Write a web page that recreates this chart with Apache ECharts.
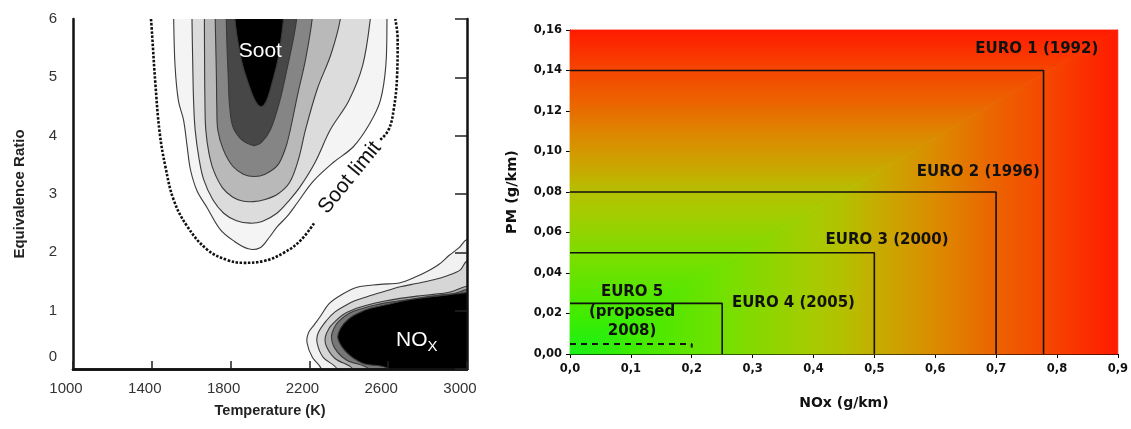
<!DOCTYPE html>
<html><head><meta charset="utf-8">
<script src="https://cdn.jsdelivr.net/npm/echarts/dist/echarts.min.js"></script>
<style>html,body{margin:0;padding:0;background:#fff}#c{width:1131px;height:429px}</style>
</head><body><div id="c"></div>
<script>
// ---------- LEFT PANEL DATA (Temperature K, Equivalence ratio) ----------
const tempRange = [1000, 3000];
const tempStep = 400;
const phiRange = [0, 6];
const phiStep = 1;

// soot contour regions (outer -> inner), closed above the top frame
const sootR1 = [[1511,6.3],[1511,6],[1518,5.2],[1535,4.6],[1561,4.27],[1580,3.8],[1596,3.42],[1630,3.05],[1680,2.77],[1748,2.39],[1814,2.2],[1890,2.06],[1950,2.08],[1995,2.25],[2037,2.44],[2088,2.62],[2139,2.85],[2220,3.22],[2321,3.54],[2423,3.81],[2505,4.2],[2560,4.6],[2588,5.2],[2594,6],[2594,6.3]];
const sootR2 = [[1604,6.3],[1604,6],[1608,5.2],[1612,4.6],[1620,4.1],[1640,3.6],[1663,3.25],[1710,2.9],[1765,2.67],[1830,2.54],[1900,2.5],[1960,2.53],[2035,2.67],[2100,2.9],[2154,3.13],[2230,3.55],[2306,4.1],[2400,4.6],[2470,5.2],[2509,6],[2509,6.3]];
const sootR3 = [[1667,6.3],[1667,6],[1668,5.2],[1670,4.5],[1674,4.1],[1690,3.7],[1714,3.4],[1760,3.1],[1810,2.95],[1860,2.88],[1915,2.87],[1970,2.9],[2040,3.0],[2100,3.2],[2145,3.6],[2180,4.1],[2240,4.8],[2310,5.4],[2357,6],[2357,6.3]];
const sootR4 = [[1722,6.3],[1722,6],[1725,5.5],[1728,5.0],[1730,4.5],[1735,4.1],[1763,3.76],[1810,3.48],[1865,3.34],[1920,3.3],[1975,3.34],[2040,3.5],[2080,3.8],[2103,4.1],[2140,4.7],[2180,5.3],[2214,6],[2214,6.3]];
const sootR5 = [[1778,6.3],[1778,6],[1782,5.5],[1788,5.0],[1795,4.5],[1812,4.15],[1850,3.95],[1890,3.86],[1920,3.83],[1955,3.88],[2002,4.1],[2050,4.6],[2090,5.2],[2115,5.6],[2135,6],[2135,6.3]];
const sootR6 = [[1822,6.3],[1822,6],[1838,5.6],[1862,5.2],[1895,4.85],[1925,4.6],[1955,4.5],[1982,4.6],[2010,4.9],[2040,5.3],[2058,5.7],[2068,6],[2068,6.3]];

// NOx contour regions (outer -> inner), closed outside right/bottom frame
const noxN1 = [[2260,-0.3],[2260,0],[2215,0.2],[2188,0.45],[2195,0.62],[2225,0.76],[2255,0.9],[2300,1.12],[2357,1.26],[2442,1.4],[2560,1.45],[2661,1.48],[2740,1.58],[2797,1.67],[2860,1.8],[2910,1.95],[2960,2.08],[3000,2.22],[3080,2.22],[3080,-0.3]];
const noxN2 = [[2340,-0.3],[2340,0],[2270,0.2],[2239,0.45],[2245,0.62],[2289,0.84],[2330,0.98],[2374,1.07],[2430,1.17],[2492,1.24],[2580,1.33],[2661,1.41],[2750,1.47],[2831,1.53],[2900,1.6],[2966,1.7],[3000,1.85],[3080,1.85],[3080,-0.3]];
const noxN3 = [[2420,-0.3],[2420,0],[2330,0.18],[2285,0.4],[2281,0.55],[2300,0.7],[2323,0.79],[2370,0.93],[2424,1.02],[2500,1.1],[2577,1.16],[2660,1.21],[2746,1.25],[2830,1.28],[2915,1.32],[3000,1.42],[3080,1.42],[3080,-0.3]];
const noxN4 = [[2500,-0.3],[2500,0],[2390,0.15],[2330,0.35],[2312,0.55],[2325,0.7],[2350,0.82],[2400,0.95],[2460,1.03],[2540,1.1],[2620,1.15],[2720,1.2],[2840,1.26],[2940,1.3],[3000,1.36],[3080,1.36],[3080,-0.3]];
const noxN5 = [[2600,-0.3],[2600,0],[2470,0.1],[2390,0.28],[2345,0.52],[2358,0.7],[2400,0.86],[2450,0.96],[2510,1.04],[2590,1.1],[2680,1.17],[2800,1.23],[2900,1.27],[3000,1.31],[3080,1.31],[3080,-0.3]];

// dashed "soot limit" curve (gap where the label sits)
const sootLimitLower = [[1396,6],[1401,5.76],[1418,4.9],[1440,4.05],[1469,3.47],[1511,2.9],[1579,2.45],[1680,2.05],[1782,1.87],[1866,1.82],[1968,1.85],[2069,1.99],[2154,2.2],[2228,2.52]];
const sootLimitUpper = [[2560,3.93],[2602,4.1],[2628,4.45],[2645,5.02],[2648,5.65],[2636,6]];

const leftNoteText = ['Soot', '{n|NO}{s|X}', 'Soot limit'];
const leftNoteAt = [[1951,5.44],[2745,0.5],[2405,3.28]];

// ---------- RIGHT PANEL DATA (NOx g/km, PM g/km) ----------
const noxAxis = [0, 0.9];
const noxStep = 0.1;
const pmAxis = [0, 0.16];
const pmStep = 0.02;
const euroNames = ['EURO 1 (1992)','EURO 2 (1996)','EURO 3 (2000)','EURO 4 (2005)'];
const euroNOx = [0.778, 0.7, 0.5, 0.25];
const euroPM  = [0.14, 0.08, 0.05, 0.025];
const euro5Proposed = [[0,0.005],[0.2,0.005],[0.2,0.0032]];
const euroLabelText = ['EURO 1 (1992)','EURO 2 (1996)','EURO 3 (2000)','EURO 4 (2005)','EURO 5\n(proposed\n2008)'];
const euroLabelAt = [[0.868,0.1506],[0.772,0.0899],[0.622,0.0563],[0.266,0.0252],[0.102,0.0207]];

// ---------- STYLES ----------
const sootShapes = [sootR1,sootR2,sootR3,sootR4,sootR5,sootR6];
const sootFills = ['#f4f4f4','#dcdcdc','#b9b9b9','#858585','#474747','#000000'];
const noxShapes = [noxN1,noxN2,noxN3,noxN4,noxN5];
const noxFills = ['#f1f1f1','#d6d6d6','#adadad','#777777','#000000'];
const allShapes = sootShapes.concat(noxShapes);
const allFills = sootFills.concat(noxFills);
const leftNoteStyle = [
  {fill:'#fff', fontSize:21, rot:0},
  {fill:'#fff', fontSize:21, rot:0},
  {fill:'#111', fontSize:21, rot:50.7}
];
const euroAlign = ['right','right','right','left','center'];
// "from corner" rectangular gradient stops (green -> yellow -> orange -> red)
const gradStops = [
  {offset:0, color:'#18f018'},
  {offset:0.12, color:'#40ec00'},
  {offset:0.28, color:'#74e000'},
  {offset:0.44, color:'#a6cc00'},
  {offset:0.5, color:'#b4c000'},
  {offset:0.56, color:'#c6ac00'},
  {offset:0.67, color:'#dc8a00'},
  {offset:0.78, color:'#ec6200'},
  {offset:0.88, color:'#f64400'},
  {offset:1, color:'#ff1a00'}
];
const LF = 'Liberation Sans, Arial, sans-serif';
const RF = 'DejaVu Sans, Verdana, sans-serif';

const chart = echarts.init(document.getElementById('c'), null, {renderer:'canvas'});
const boxLine = {show:true, lineStyle:{color:'#111', width:2.5}};

const option = {
  animation:false,
  backgroundColor:'#ffffff',
  grid:[
    {left:73, top:19, width:394, height:350},
    {left:570, top:30, width:548, height:324}
  ],
  xAxis:[
    {gridIndex:0, type:'value', min:tempRange[0], max:tempRange[1], interval:tempStep, z:10,
     axisLine:boxLine, splitLine:{show:false},
     axisTick:{show:true, inside:true, length:8, lineStyle:{color:'#222', width:1.5}},
     axisLabel:{color:'#333', fontSize:15, fontFamily:LF, margin:12, padding:[0,14,0,0], formatter:v=>String(v)},
     name:'Temperature (K)', nameLocation:'middle', nameGap:34,
     nameTextStyle:{fontFamily:LF, fontWeight:'bold', fontSize:14.5, color:'#222'}},
    {gridIndex:0, type:'value', position:'top', min:tempRange[0], max:tempRange[1], interval:tempStep, z:10,
     axisLine:boxLine, axisTick:{show:false}, axisLabel:{show:false}, splitLine:{show:false}},
    {gridIndex:1, type:'value', min:noxAxis[0], max:noxAxis[1], interval:noxStep,
     axisLine:{show:true, lineStyle:{color:'#000', width:1}}, splitLine:{show:false},
     axisTick:{show:true, length:4, lineStyle:{color:'#000'}},
     axisLabel:{color:'#111', fontSize:11.5, fontWeight:'bold', fontFamily:RF, margin:9,
       formatter:v=>v.toFixed(1).replace('.',',')},
     name:'NOx (g/km)', nameLocation:'middle', nameGap:42,
     nameTextStyle:{fontFamily:RF, fontWeight:'bold', fontSize:14, color:'#111'}}
  ],
  yAxis:[
    {gridIndex:0, type:'value', min:phiRange[0], max:phiRange[1], interval:phiStep, z:10,
     axisLine:boxLine, axisTick:{show:false}, splitLine:{show:false},
     axisLabel:{color:'#333', fontSize:15, fontFamily:LF, margin:16,
       formatter:v=> v===0 ? '{z|0}' : String(v),
       rich:{z:{fontSize:15, fontFamily:LF, color:'#333', padding:[0,0,25,0]}}},
     name:'Equivalence Ratio', nameLocation:'middle', nameGap:46,
     nameTextStyle:{fontFamily:LF, fontWeight:'bold', fontSize:15, color:'#222'}},
    {gridIndex:0, type:'value', position:'right', min:phiRange[0], max:phiRange[1], interval:phiStep, z:10,
     axisLine:boxLine, axisTick:{show:true, inside:true, length:12, lineStyle:{color:'#222', width:1.5}},
     axisLabel:{show:false}, splitLine:{show:false}},
    {gridIndex:1, type:'value', min:pmAxis[0], max:pmAxis[1], interval:pmStep,
     axisLine:{show:true, lineStyle:{color:'#000', width:1}}, splitLine:{show:false},
     axisTick:{show:true, length:4, lineStyle:{color:'#000'}},
     axisLabel:{color:'#111', fontSize:11.5, fontWeight:'bold', fontFamily:RF, margin:8,
       formatter:v=>v.toFixed(2).replace('.',',')},
     name:'PM (g/km)', nameLocation:'middle', nameGap:50,
     nameTextStyle:{fontFamily:RF, fontWeight:'bold', fontSize:14.5, color:'#111'}}
  ],
  series:[
    // contour regions
    {type:'custom', xAxisIndex:0, yAxisIndex:0, clip:true, z:2, silent:true,
     data: allShapes.map((s,i)=>[2000,3,i]),
     renderItem:(params, api)=>{
       const i = api.value(2);
       const pts = allShapes[i].map(p=>api.coord(p));
       return {type:'polygon', shape:{points:pts, smooth:0.35},
         style:{fill:allFills[i], stroke:'#3a3a3a', lineWidth:1.1}};
     }},
    // soot limit dashed
    {type:'line', xAxisIndex:0, yAxisIndex:0, smooth:0.4, symbol:'none', z:4, silent:true,
     data:sootLimitLower, lineStyle:{color:'#111', width:2.6, type:[2.5,1.6]}},
    {type:'line', xAxisIndex:0, yAxisIndex:0, smooth:0.4, symbol:'none', z:4, silent:true,
     data:sootLimitUpper, lineStyle:{color:'#111', width:2.6, type:[2.5,1.6]}},
    // left annotations
    {type:'custom', xAxisIndex:0, yAxisIndex:0, z:6, silent:true,
     data:leftNoteAt.map((p,i)=>[p[0],p[1],i]),
     renderItem:(params, api)=>{
       const i = api.value(2);
       const p = api.coord([api.value(0), api.value(1)]);
       const st = leftNoteStyle[i];
       return {type:'text', x:p[0], y:p[1], rotation: st.rot*Math.PI/180,
         style:{text:leftNoteText[i], fill:st.fill, fontSize:st.fontSize, fontFamily:LF,
           align:'center', verticalAlign:'middle',
           rich:{n:{fill:'#fff', fontSize:21, fontFamily:LF, lineHeight:30, verticalAlign:'middle'},
                 s:{fill:'#fff', fontSize:15, fontFamily:LF, lineHeight:30, verticalAlign:'bottom', padding:[13,0,0,0]}}}};
     }},
    // right background: rectangular "from corner" gradient as two triangles
    {type:'custom', xAxisIndex:2, yAxisIndex:2, z:1, silent:true, data:[[0,0,0],[0,0,1]],
     renderItem:(params, api)=>{
       const k = api.value(2);
       const a = api.coord([noxAxis[0], pmAxis[0]]);
       const b = api.coord([noxAxis[1], pmAxis[1]]);
       const pts = k===0 ? [[a[0],a[1]],[a[0],b[1]],[b[0],b[1]]] : [[a[0],a[1]],[b[0],a[1]],[b[0],b[1]]];
       const grad = k===0 ? {type:'linear', x:0, y:1, x2:0, y2:0, colorStops:gradStops}
                          : {type:'linear', x:0, y:0, x2:1, y2:0, colorStops:gradStops};
       return {type:'polygon', shape:{points:pts}, style:{fill:grad, stroke:grad, lineWidth:0.8}};
     }},
    // EURO boxes
    ...euroNames.map((nm,i)=>({type:'line', name:nm, xAxisIndex:2, yAxisIndex:2, symbol:'none', z:3, silent:true,
       data:[[0,euroPM[i]],[euroNOx[i],euroPM[i]],[euroNOx[i],0]],
       lineStyle:{color:'#111', width:1.6}})),
    {type:'line', name:'EURO 5', xAxisIndex:2, yAxisIndex:2, symbol:'none', z:3, silent:true,
     data:euro5Proposed, lineStyle:{color:'#111', width:2, type:[6,5]}},
    // EURO labels
    {type:'custom', xAxisIndex:2, yAxisIndex:2, z:6, silent:true,
     data:euroLabelAt.map((p,i)=>[p[0],p[1],i]),
     renderItem:(params, api)=>{
       const i = api.value(2);
       const p = api.coord([api.value(0), api.value(1)]);
       return {type:'text', x:p[0], y:p[1],
         style:{text:euroLabelText[i], fill:'#111', fontSize:15, fontWeight:'bold', fontFamily:RF,
           align:euroAlign[i], verticalAlign:'middle', lineHeight:19.5}};
     }}
  ]
};
chart.setOption(option);
</script>
</body></html>
